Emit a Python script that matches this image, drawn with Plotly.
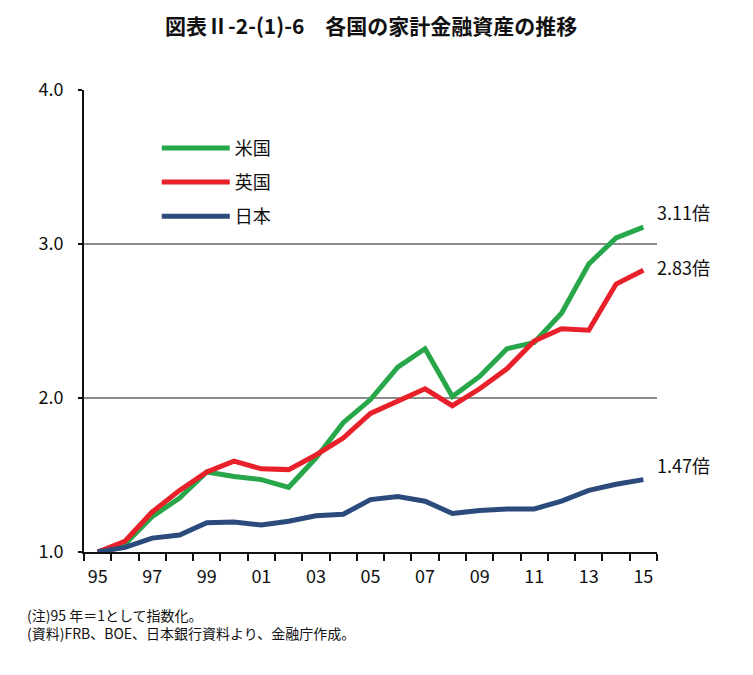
import plotly.graph_objects as go

years = list(range(1995, 2016))
year_labels = ["95", "97", "99", "01", "03", "05", "07", "09", "11", "13", "15"]
us = [1.00, 1.05, 1.23, 1.35, 1.52, 1.49, 1.47, 1.42, 1.61, 1.84, 1.99, 2.20, 2.32,
      2.01, 2.14, 2.32, 2.36, 2.55, 2.87, 3.04, 3.11]
uk = [1.00, 1.07, 1.26, 1.40, 1.52, 1.59, 1.54, 1.535, 1.63, 1.74, 1.90, 1.98, 2.06,
      1.95, 2.06, 2.19, 2.37, 2.45, 2.44, 2.74, 2.83]
jp = [1.00, 1.03, 1.09, 1.11, 1.19, 1.195, 1.175, 1.20, 1.235, 1.245, 1.34, 1.36, 1.33,
      1.25, 1.27, 1.28, 1.28, 1.33, 1.40, 1.44, 1.47]
series_names = ["米国", "英国", "日本"]
colors = ["#27A74A", "#E8202A", "#2A4B7C"]
end_labels = ["3.11倍", "2.83倍", "1.47倍"]
label_yshift = [15, 3, 15]
title_text = "図表Ⅱ-2-(1)-6　各国の家計金融資産の推移"

FONT = "Noto Sans CJK JP, sans-serif"

W, H = 745, 667
ML, MR, MT, MB = 76, 96, 82, 123

idx = list(range(len(years)))
legend_ids = ["legend", "legend2", "legend3"]
legend_y = [0.914, 0.840, 0.766]

fig = go.Figure()
for name, vals, col, lid in zip(series_names, [us, uk, jp], colors, legend_ids):
    fig.add_trace(go.Scatter(x=idx, y=vals, mode="lines", name=name, legend=lid,
                             line=dict(color=col, width=5)))

for vals, lab, ys in zip([us, uk, jp], end_labels, label_yshift):
    fig.add_annotation(x=idx[-1], y=vals[-1], text=lab, showarrow=False,
                       xanchor="left", yanchor="middle", xshift=12, yshift=ys,
                       font=dict(family=FONT, size=18, color="#111"))

fig.add_annotation(xref="paper", yref="paper", x=-0.103, y=-0.110,
                   xanchor="left", yanchor="top", align="left", showarrow=False,
                   text="(注)95 年＝1として指数化。<br>(資料)FRB、BOE、日本銀行資料より、金融庁作成。",
                   font=dict(family=FONT, size=14, color="#111"))

# title as a paper annotation so its box stays inside the figure
fig.add_annotation(xref="paper", yref="paper", x=0.5, y=1 + (MT - 17) / 462,
                   xanchor="center", yanchor="middle", showarrow=False,
                   text="<b>" + title_text + "</b>",
                   font=dict(family=FONT, size=21, color="#111"))

legend_common = dict(xanchor="left", yanchor="top", x=0.127,
                     font=dict(family=FONT, size=18, color="#111"),
                     itemwidth=68, bgcolor="rgba(0,0,0,0)")

fig.update_layout(
    width=W, height=H,
    margin=dict(l=ML, r=MR, t=MT, b=MB),
    paper_bgcolor="white", plot_bgcolor="white",
    showlegend=True,
    legend=dict(y=legend_y[0], **legend_common),
    legend2=dict(y=legend_y[1], **legend_common),
    legend3=dict(y=legend_y[2], **legend_common),
    xaxis=dict(range=[-0.5, 20.5], tickvals=list(range(0, 21, 2)), ticktext=year_labels,
               ticks="", showgrid=False, zeroline=False,
               showline=True, linecolor="#111", linewidth=2, ticklabelstandoff=7,
               tickfont=dict(family=FONT, size=18, color="#111"),
               minor=dict(tickvals=[i - 0.5 for i in range(22)], ticks="outside",
                          ticklen=7, tickwidth=2, tickcolor="#111", showgrid=False)),
    yaxis=dict(range=[1, 4], tickvals=[1, 2, 3, 4], ticktext=["1.0", "2.0", "3.0", "4.0"],
               ticks="outside", ticklen=4, tickwidth=2, tickcolor="#111",
               showgrid=True, gridcolor="#8c8c8c", gridwidth=2, zeroline=False,
               showline=True, linecolor="#111", linewidth=2, ticklabelstandoff=11,
               tickfont=dict(family=FONT, size=18, color="#111")),
)

fig.write_html("out.html")
